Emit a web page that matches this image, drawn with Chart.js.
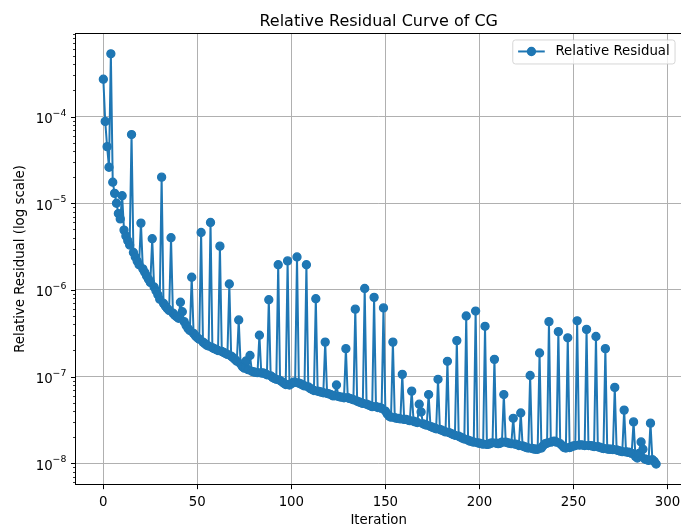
<!DOCTYPE html>
<html><head><meta charset="utf-8">
<script src="https://cdn.jsdelivr.net/npm/chart.js@4.4.0/dist/chart.umd.min.js"></script>
<style>html,body{margin:0;padding:0;background:#fff;overflow:hidden;width:681px;height:531px}canvas{display:block}</style>
</head><body>
<canvas id="c" width="682" height="531"></canvas>
<script>
const chartTitle = 'Relative Residual Curve of CG';
const xLabel = 'Iteration';
const yLabel = 'Relative Residual (log scale)';
const seriesName = 'Relative Residual';

const relativeResidual = [
  2.7e-4, 8.8e-5, 4.5e-5, 2.6e-5, 5.3e-4, 1.75e-5, 1.3e-5, 1.0e-5, 7.6e-6, 6.6e-6,
  1.22e-5, 4.9e-6, 4.2e-6, 3.7e-6, 3.3e-6, 6.2e-5, 2.7e-6, 2.4e-6, 2.15e-6, 1.95e-6,
  5.9e-6, 1.75e-6, 1.6e-6, 1.45e-6, 1.33e-6, 1.22e-6, 3.9e-6, 1.08e-6, 9.8e-7, 8.8e-7,
  7.8e-7, 2.0e-5, 7.0e-7, 6.5e-7, 6.1e-7, 5.8e-7, 4.0e-6, 5.4e-7, 5.1e-7, 4.9e-7,
  4.7e-7, 7.2e-7, 5.6e-7, 4.3e-7, 3.9e-7, 3.6e-7, 3.4e-7, 1.4e-6, 3.15e-7, 2.95e-7,
  2.8e-7, 2.7e-7, 4.6e-6, 2.5e-7, 2.4e-7, 2.3e-7, 2.25e-7, 6.0e-6, 2.15e-7, 2.1e-7,
  2.05e-7, 2.0e-7, 3.2e-6, 1.95e-7, 1.9e-7, 1.85e-7, 1.8e-7, 1.17e-6, 1.72e-7, 1.65e-7,
  1.58e-7, 1.5e-7, 4.5e-7, 1.4e-7, 1.3e-7, 1.25e-7, 1.52e-7, 1.2e-7, 1.75e-7, 1.15e-7,
  1.13e-7, 1.12e-7, 1.11e-7, 3.0e-7, 1.1e-7, 1.1e-7, 1.08e-7, 1.05e-7, 7.7e-7, 1.02e-7,
  9.8e-8, 9.5e-8, 9.3e-8, 1.95e-6, 9.0e-8, 8.7e-8, 8.4e-8, 8.1e-8, 2.16e-6, 8.0e-8,
  8.3e-8, 8.6e-8, 8.6e-8, 2.4e-6, 8.4e-8, 8.2e-8, 8.0e-8, 7.8e-8, 1.95e-6, 7.6e-8,
  7.3e-8, 7.1e-8, 6.9e-8, 7.9e-7, 6.8e-8, 6.7e-8, 6.6e-8, 6.5e-8, 2.5e-7, 6.4e-8,
  6.3e-8, 6.2e-8, 6.0e-8, 6.0e-8, 8.0e-8, 5.9e-8, 5.8e-8, 5.8e-8, 5.7e-8, 2.1e-7,
  5.7e-8, 5.6e-8, 5.5e-8, 5.4e-8, 6.0e-7, 5.2e-8, 5.1e-8, 5.0e-8, 4.9e-8, 1.04e-6,
  4.8e-8, 4.7e-8, 4.6e-8, 4.5e-8, 8.2e-7, 4.5e-8, 4.4e-8, 4.4e-8, 4.3e-8, 6.2e-7,
  4.0e-8, 3.7e-8, 3.5e-8, 3.4e-8, 2.5e-7, 3.35e-8, 3.3e-8, 3.3e-8, 3.25e-8, 1.06e-7,
  3.2e-8, 3.2e-8, 3.15e-8, 3.1e-8, 6.8e-8, 3.05e-8, 3.0e-8, 2.95e-8, 4.8e-8, 3.9e-8,
  2.85e-8, 2.8e-8, 2.75e-8, 6.2e-8, 2.65e-8, 2.6e-8, 2.55e-8, 2.5e-8, 9.3e-8, 2.45e-8,
  2.4e-8, 2.35e-8, 2.3e-8, 1.5e-7, 2.25e-8, 2.2e-8, 2.15e-8, 2.1e-8, 2.6e-7, 2.05e-8,
  2.0e-8, 1.95e-8, 1.9e-8, 5.0e-7, 1.85e-8, 1.8e-8, 1.78e-8, 1.75e-8, 5.7e-7, 1.72e-8,
  1.7e-8, 1.68e-8, 1.66e-8, 3.8e-7, 1.65e-8, 1.66e-8, 1.7e-8, 1.72e-8, 1.58e-7, 1.7e-8,
  1.68e-8, 1.7e-8, 1.75e-8, 6.2e-8, 1.75e-8, 1.72e-8, 1.7e-8, 1.68e-8, 3.3e-8, 1.66e-8,
  1.65e-8, 1.6e-8, 3.8e-8, 1.58e-8, 1.55e-8, 1.52e-8, 1.5e-8, 1.03e-7, 1.48e-8, 1.46e-8,
  1.45e-8, 1.45e-8, 1.87e-7, 1.5e-8, 1.6e-8, 1.68e-8, 1.7e-8, 4.3e-7, 1.75e-8, 1.78e-8,
  1.8e-8, 1.75e-8, 3.3e-7, 1.68e-8, 1.6e-8, 1.52e-8, 1.5e-8, 2.8e-7, 1.52e-8, 1.55e-8,
  1.58e-8, 1.6e-8, 4.4e-7, 1.62e-8, 1.63e-8, 1.62e-8, 1.6e-8, 3.5e-7, 1.6e-8, 1.6e-8,
  1.58e-8, 1.56e-8, 2.9e-7, 1.55e-8, 1.53e-8, 1.5e-8, 1.48e-8, 2.1e-7, 1.46e-8, 1.45e-8,
  1.45e-8, 1.44e-8, 7.5e-8, 1.42e-8, 1.4e-8, 1.38e-8, 1.36e-8, 4.1e-8, 1.35e-8, 1.34e-8,
  1.33e-8, 1.3e-8, 3.0e-8, 1.2e-8, 1.15e-8, 1.3e-8, 1.76e-8, 1.45e-8, 1.12e-8, 1.1e-8,
  1.08e-8, 2.9e-8, 1.1e-8, 1.05e-8, 9.8e-9
];
const iterations = relativeResidual.map((_, i) => i);
const xTickValues = [0, 50, 100, 150, 200, 250, 300];
const yMajorExponents = [-8, -7, -6, -5, -4];

const FONT = "'DejaVu Sans', sans-serif";
const BLUE = '#1f77b4';
const FS = 13.33;

// axis limits (matplotlib-like 5% margins)
const lastIter = iterations[iterations.length - 1];
const xMin = -0.05 * lastIter;
const xMax = 307.6;
const lMin = Math.log10(Math.min(...relativeResidual));
const lMax = Math.log10(Math.max(...relativeResidual));
const lm = 0.05 * (lMax - lMin);
const yMin = Math.pow(10, lMin - lm);
const yMax = Math.pow(10, lMax + lm);

const decorPlugin = {
  id: 'decor',
  afterDraw(chart) {
    const ctx = chart.ctx, ca = chart.chartArea;
    const xs = chart.scales.x, ys = chart.scales.y;
    ctx.save();
    // tick marks
    ctx.strokeStyle = '#000';
    ctx.lineWidth = 1;
    ctx.beginPath();
    xs.ticks.forEach(t => {
      const px = Math.round(xs.getPixelForValue(t.value)) + 0.5;
      ctx.moveTo(px, ca.bottom); ctx.lineTo(px, ca.bottom + 4.67);
    });
    ys.ticks.forEach(t => {
      if (!t.major) return;
      const py = Math.round(ys.getPixelForValue(t.value)) + 0.5;
      ctx.moveTo(ca.left - 4.67, py); ctx.lineTo(ca.left, py);
    });
    ctx.stroke();
    ctx.lineWidth = 0.8;
    ctx.beginPath();
    ys.ticks.forEach(t => {
      if (t.major) return;
      const py = Math.round(ys.getPixelForValue(t.value)) + 0.5;
      ctx.moveTo(ca.left - 2.67, py); ctx.lineTo(ca.left, py);
    });
    ctx.stroke();
    // spines
    ctx.lineWidth = 1;
    ctx.strokeStyle = '#000';
    ctx.strokeRect(Math.floor(ca.left) + 0.5, Math.floor(ca.top) + 0.5,
      Math.floor(ca.right) - Math.floor(ca.left), Math.floor(ca.bottom) - Math.floor(ca.top));
    // x tick labels
    ctx.fillStyle = '#000';
    ctx.font = FS + 'px ' + FONT;
    ctx.textAlign = 'center';
    ctx.textBaseline = 'alphabetic';
    xTickValues.forEach(v => {
      ctx.fillText(String(v), xs.getPixelForValue(v), ca.bottom + 21.8);
    });
    // y tick labels 10^n
    ctx.textAlign = 'left';
    yMajorExponents.forEach(e => {
      const py = ys.getPixelForValue(Math.pow(10, e));
      const base = '10', sup = '\u2212' + Math.abs(e);
      ctx.font = FS + 'px ' + FONT;
      const wb = ctx.measureText(base).width;
      ctx.font = (FS * 0.7) + 'px ' + FONT;
      const ws = ctx.measureText(sup).width;
      const right = ca.left - 9.33;
      const x0 = right - wb - ws;
      ctx.font = FS + 'px ' + FONT;
      ctx.fillText(base, x0, py + 6.5);
      ctx.font = (FS * 0.7) + 'px ' + FONT;
      ctx.fillText(sup, x0 + wb, py - 1.0);
    });
    // title
    ctx.font = '16px ' + FONT;
    ctx.textAlign = 'center';
    ctx.fillText(chartTitle, (ca.left + ca.right) / 2, 25.5);
    // legend
    ctx.font = FS + 'px ' + FONT;
    const tw = ctx.measureText(seriesName).width;
    const pad = 0.4 * FS, hl = 2 * FS, htp = 0.8 * FS;
    const w = pad + hl + htp + tw + pad;
    const h = 24;
    const right = ca.right - 0.5 * FS, top = ca.top + 0.5 * FS;
    const left = right - w;
    const r = 0.2 * FS;
    ctx.beginPath();
    ctx.moveTo(left + r, top);
    ctx.lineTo(right - r, top); ctx.arcTo(right, top, right, top + r, r);
    ctx.lineTo(right, top + h - r); ctx.arcTo(right, top + h, right - r, top + h, r);
    ctx.lineTo(left + r, top + h); ctx.arcTo(left, top + h, left, top + h - r, r);
    ctx.lineTo(left, top + r); ctx.arcTo(left, top, left + r, top, r);
    ctx.closePath();
    ctx.fillStyle = 'rgba(255,255,255,0.8)';
    ctx.fill();
    ctx.strokeStyle = 'rgba(204,204,204,0.8)';
    ctx.lineWidth = 1;
    ctx.stroke();
    const cy = top + h / 2 - 0.5;
    ctx.strokeStyle = BLUE; ctx.lineWidth = 2;
    ctx.beginPath(); ctx.moveTo(left + pad, cy); ctx.lineTo(left + pad + hl, cy); ctx.stroke();
    ctx.beginPath(); ctx.arc(left + pad + hl / 2, cy, 4, 0, Math.PI * 2);
    ctx.fillStyle = BLUE; ctx.fill(); ctx.lineWidth = 1.33; ctx.stroke();
    ctx.fillStyle = '#000';
    ctx.textAlign = 'left'; ctx.textBaseline = 'middle';
    ctx.fillText(seriesName, left + pad + hl + htp, cy);
    ctx.restore();
  }
};

new Chart(document.getElementById('c'), {
  type: 'line',
  data: {
    datasets: [{
      label: seriesName,
      data: iterations.map((it, i) => ({ x: it, y: relativeResidual[i] })),
      borderColor: BLUE,
      backgroundColor: BLUE,
      borderWidth: 2,
      borderJoinStyle: 'round',
      pointRadius: 4,
      pointBorderWidth: 1.33,
      pointBackgroundColor: BLUE,
      pointBorderColor: BLUE,
      tension: 0,
      fill: false
    }]
  },
  options: {
    responsive: false,
    devicePixelRatio: 1,
    animation: false,
    events: [],
    layout: { autoPadding: false, padding: { left: 0, top: 33.3, right: 0.3, bottom: 0 } },
    plugins: { legend: { display: false }, title: { display: false }, tooltip: { enabled: false } },
    scales: {
      x: {
        type: 'linear', min: xMin, max: xMax,
        afterBuildTicks: s => { s.ticks = xTickValues.map(v => ({ value: v })); },
        afterFit: s => { s.height = 46.5; },
        grid: { color: '#b0b0b0', lineWidth: 1, drawTicks: false },
        border: { display: false },
        ticks: { display: false },
        title: { display: true, text: xLabel, font: { family: FONT, size: FS }, color: '#000', padding: { top: 0, bottom: 2.5 } }
      },
      y: {
        type: 'logarithmic', min: yMin, max: yMax,
        afterBuildTicks: s => {
          const t = [];
          for (let e = -10; e <= -2; e++) for (let k = 1; k <= 9; k++) {
            const v = k * Math.pow(10, e);
            if (v >= yMin && v <= yMax) t.push({ value: v, major: k === 1 });
          }
          s.ticks = t;
        },
        afterFit: s => { s.width = 75.7; },
        grid: { color: c => (c.tick && c.tick.major) ? '#b0b0b0' : 'rgba(0,0,0,0)', lineWidth: 1, drawTicks: false },
        border: { display: false },
        ticks: { display: false },
        title: { display: true, text: yLabel, font: { family: FONT, size: FS }, color: '#000', padding: { top: 13, bottom: 0 } }
      }
    }
  },
  plugins: [decorPlugin]
});
</script>
</body></html>
